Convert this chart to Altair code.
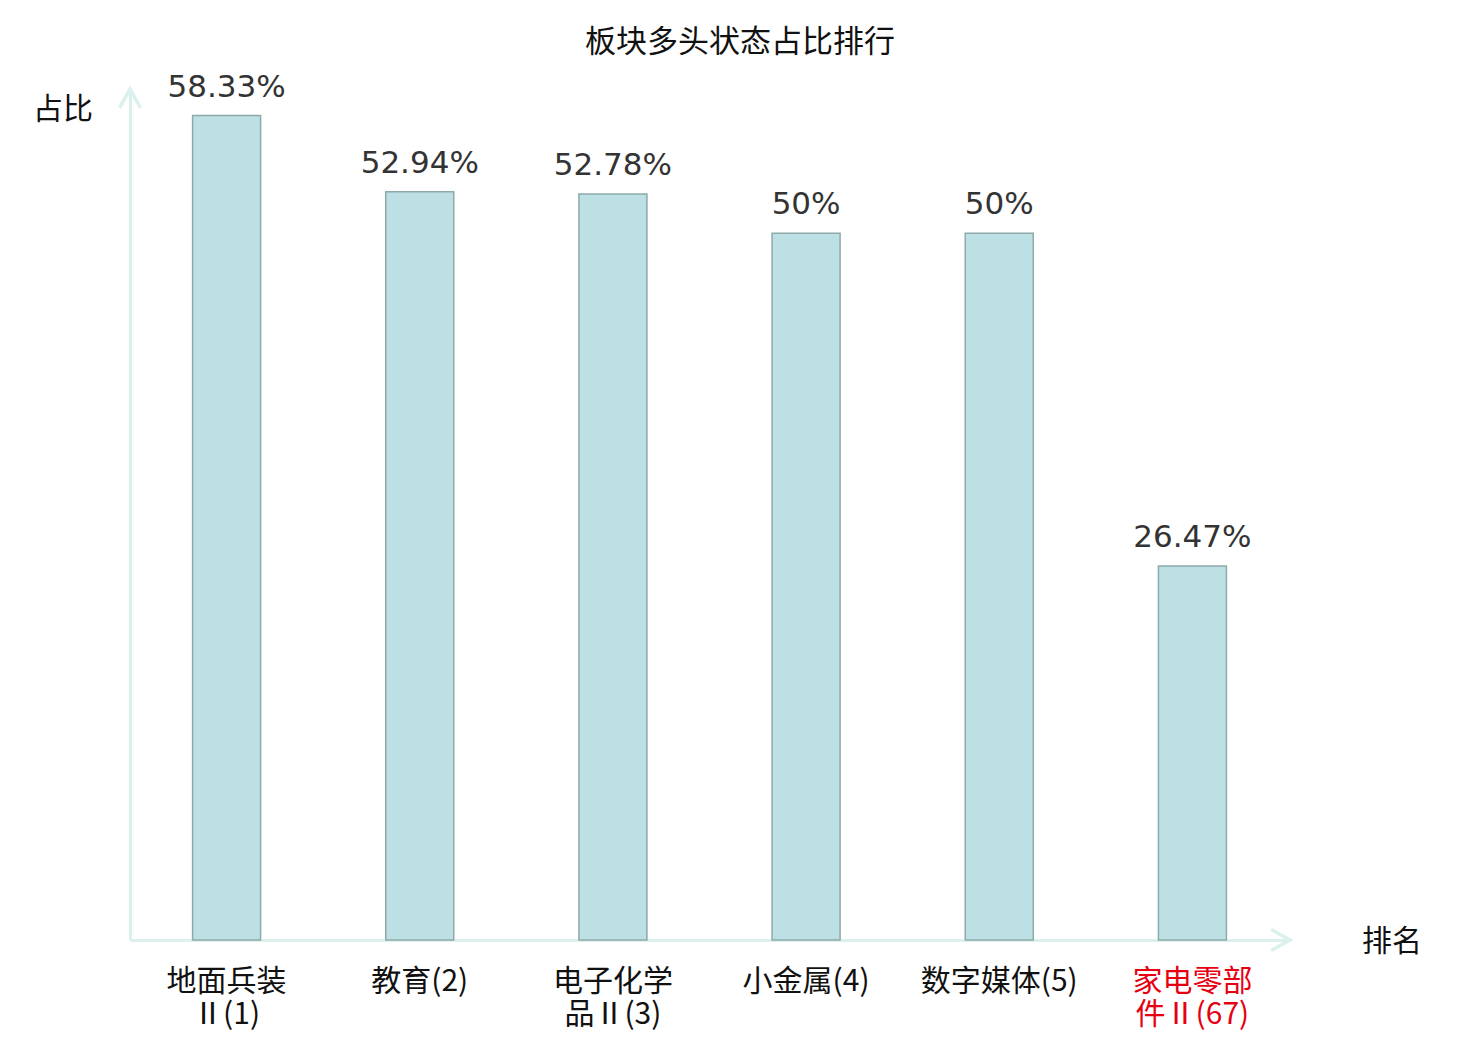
import altair as alt
import pandas as pd

categories = ["地面兵装Ⅱ(1)", "教育(2)", "电子化学品Ⅱ(3)", "小金属(4)", "数字媒体(5)", "家电零部件Ⅱ(67)"]
values = [58.33, 52.94, 52.78, 50, 50, 26.47]
highlight = "家电零部件Ⅱ(67)"
title_text = "板块多头状态占比排行"
y_title = "占比"
x_title = "排名"

df = pd.DataFrame({"name": categories, "value": values})

AXIS_COLOR = "#dcf1ee"
CJK = "Noto Sans CJK SC"

x_enc = alt.X(
    "name:N",
    sort=categories,
    scale=alt.Scale(paddingInner=0, paddingOuter=0),
    axis=alt.Axis(
        title=None,
        labelAngle=0,
        ticks=False,
        labelPadding=26,
        labelFont=CJK,
        labelFontSize=30,
        labelLineHeight=33,
        labelColor={"expr": f"datum.value == '{highlight}' ? '#e60012' : '#111111'"},
        labelExpr="length(datum.label) > 7 ? [substring(datum.label, 0, 4), substring(datum.label, 4)] : datum.label",
        domainColor=AXIS_COLOR,
        domainWidth=3,
        grid=False,
    ),
)
y_enc = alt.Y(
    "value:Q",
    scale=alt.Scale(domain=[0, 60], nice=False),
    axis=alt.Axis(
        title=None,
        labels=False,
        ticks=False,
        grid=False,
        domainColor=AXIS_COLOR,
        domainWidth=3,
    ),
)

base = alt.Chart(df)

bars = base.mark_bar(
    size=68, color="#bce0e3", stroke="#8fa9aa", strokeWidth=1.5
).encode(x=x_enc, y=y_enc)

labels = base.transform_calculate(
    lab="format(datum.value, '.2~f') + '%'"
).mark_text(
    font="DejaVu Sans", fontSize=31, color="#333333", baseline="alphabetic", dy=-19
).encode(x=alt.X("name:N", sort=categories), y="value:Q", text="lab:N")

one = pd.DataFrame({"k": [0]})

title = alt.Chart(pd.DataFrame({"t": [title_text]})).mark_text(
    font=CJK, fontSize=31, color="#111111", baseline="middle", align="center"
).encode(x=alt.value(610), y=alt.value(-49), text="t:N")

ytitle = alt.Chart(pd.DataFrame({"t": [y_title]})).mark_text(
    font=CJK, fontSize=30, color="#111111", baseline="middle", align="center"
).encode(x=alt.value(-67), y=alt.value(18), text="t:N")

xtitle = alt.Chart(pd.DataFrame({"t": [x_title]})).mark_text(
    font=CJK, fontSize=30, color="#111111", baseline="middle", align="center"
).encode(x=alt.value(1262), y=alt.value(850), text="t:N")

yarrow = alt.Chart(one).mark_point(
    shape="M -1 1.8 L 0 0 L 1 1.8", filled=False, size=440, stroke=AXIS_COLOR, strokeWidth=3.5, opacity=1
).encode(x=alt.value(0), y=alt.value(-3))

xarrow = alt.Chart(one).mark_point(
    shape="M -1.8 -1 L 0 0 L -1.8 1", filled=False, size=440, stroke=AXIS_COLOR, strokeWidth=3.5, opacity=1
).encode(x=alt.value(1160), y=alt.value(848))

chart = alt.layer(bars, labels, title, ytitle, xtitle, yarrow, xarrow).properties(
    width=1159,
    height=848,
    autosize=alt.AutoSizeParams(type="none"),
    padding={"left": 122, "top": 84, "right": 183, "bottom": 92},
).configure_view(stroke=None)

chart.save("out.html", embed_options={"renderer": "svg", "actions": False})
